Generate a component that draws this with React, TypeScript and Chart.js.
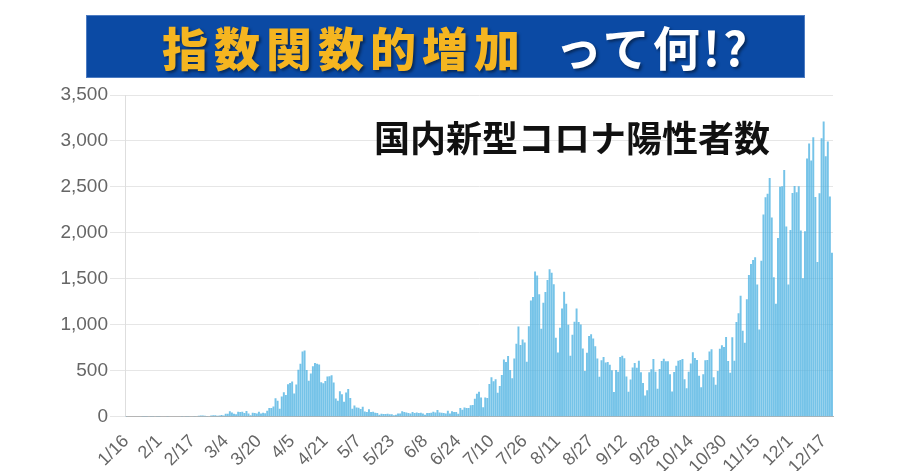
import React, { useEffect, useRef } from 'react';
import { Chart, registerables } from 'chart.js';

Chart.register(...registerables);

// Daily new positive cases in Japan, 2020 (from 1/16 to 12/21)
const jan = [1, 0, 0, 0, 0, 0, 0, 0, 1, 1, 1, 0, 3, 1, 4, 3];
const feb = [2, 0, 0, 0, 1, 0, 0, 0, 0, 0, 0, 1, 4, 1, 8, 5, 6, 7, 4, 10, 13, 12, 11, 8, 4, 14, 15, 15, 11];
const mar = [14, 18, 14, 33, 33, 59, 47, 33, 26, 54, 52, 55, 41, 62, 36, 15, 44, 39, 36, 53, 35, 43, 38, 65, 95, 96, 112, 200, 173, 87, 220];
const apr = [266, 235, 353, 367, 383, 252, 351, 511, 576, 708, 720, 507, 391, 470, 550, 585, 576, 568, 376, 364, 389, 437, 440, 451, 372, 199, 173, 278, 245, 162];
const may = [263, 302, 203, 87, 123, 100, 97, 84, 107, 57, 50, 81, 51, 55, 43, 41, 21, 31, 30, 30, 33, 26, 27, 17, 21, 34, 34, 59, 51, 46, 40];
const jun = [36, 51, 40, 46, 39, 43, 36, 20, 41, 40, 42, 55, 47, 72, 47, 44, 41, 34, 66, 36, 58, 50, 52, 33, 96, 76, 99, 94, 96, 125];
const jul = [126, 194, 250, 272, 210, 104, 209, 204, 355, 430, 385, 408, 261, 335, 455, 622, 595, 660, 509, 419, 632, 795, 981, 779, 840, 808, 597, 985, 1264, 1301, 1580];
const aug = [1536, 1331, 957, 1241, 1356, 1488, 1605, 1565, 1442, 859, 698, 967, 1177, 1360, 1230, 1000, 662, 891, 1034, 1176, 1030, 1003, 743, 496, 696, 878, 897, 850, 766, 633, 435];
const sep = [614, 649, 590, 596, 566, 505, 268, 509, 490, 650, 663, 636, 438, 272, 404, 536, 584, 532, 610, 483, 367, 230, 287, 483, 515, 628, 489, 304, 519, 605];
const oct = [630, 602, 604, 463, 274, 486, 555, 610, 617, 629, 408, 309, 490, 578, 700, 639, 617, 446, 320, 461, 615, 616, 709, 735, 430, 347, 497, 739, 778, 757, 867];
const nov = [606, 477, 865, 609, 1029, 1125, 1317, 936, 805, 1279, 1541, 1660, 1704, 1735, 1438, 949, 1697, 2201, 2388, 2425, 2596, 2168, 1518, 1228, 1945, 2501, 2508, 2684, 2068, 1437];
const dec = [2030, 2433, 2510, 2442, 2508, 2025, 1505, 2019, 2810, 2971, 2788, 3041, 2391, 1684, 2430, 3030, 3211, 2834, 2993, 2397, 1783];

const dailyCases = [...jan, ...feb, ...mar, ...apr, ...may, ...jun, ...jul, ...aug, ...sep, ...oct, ...nov, ...dec];

const tickLabels = ['1/16', '2/1', '2/17', '3/4', '3/20', '4/5', '4/21', '5/7', '5/23', '6/8', '6/24', '7/10', '7/26', '8/11', '8/27', '9/12', '9/28', '10/14', '10/30', '11/15', '12/1', '12/17'];

const yMax = 3500;
const yStep = 500;

const titleMain = '指数関数的増加';
const titleSub = 'って何!?';
const annotation = '国内新型コロナ陽性者数';

const categories = dailyCases.map((_, i) => {
  const d = new Date(2020, 0, 16 + i);
  return `${d.getMonth() + 1}/${d.getDate()}`;
});

export default function App() {
  const canvasRef = useRef<HTMLCanvasElement | null>(null);

  useEffect(() => {
    const canvas = canvasRef.current;
    if (!canvas) return;
    const chart = new Chart(canvas, {
      type: 'bar',
      data: {
        labels: categories,
        datasets: [
          {
            label: annotation,
            data: dailyCases,
            backgroundColor: 'rgba(78, 178, 226, 0.78)',
            borderWidth: 0,
            barPercentage: 1,
            categoryPercentage: 0.94,
          },
        ],
      },
      options: {
        animation: false,
        responsive: false,
        maintainAspectRatio: false,
        devicePixelRatio: 1,
        layout: { padding: { left: 0, right: 67, top: 95, bottom: 0 } },
        plugins: {
          legend: { display: false },
          title: { display: false },
          tooltip: { enabled: false },
        },
        scales: {
          x: {
            offset: true,
            grid: { display: false },
            border: { display: true, color: '#b5b5b5', width: 1 },
            ticks: {
              autoSkip: false,
              minRotation: 45,
              maxRotation: 45,
              padding: 6,
              color: '#666666',
              font: { family: 'Liberation Sans', size: 18 },
              callback: (_v: any, i: number) => (tickLabels.includes(categories[i]) ? categories[i] : ''),
            },
            afterFit: (scale: any) => {
              scale.height = 54.3;
            },
          },
          y: {
            min: 0,
            max: yMax,
            grid: { color: '#e6e6e6', tickLength: 15, lineWidth: 1 },
            border: { display: true, color: '#dedede', width: 1 },
            ticks: {
              stepSize: yStep,
              padding: 2,
              color: '#666666',
              font: { family: 'Liberation Sans', size: 19 },
              callback: (v: any) => Number(v).toLocaleString('en-US'),
            },
            afterFit: (scale: any) => {
              scale.width = 125;
            },
          },
        },
      },
    });
    return () => chart.destroy();
  }, []);

  return (
    <div style={{ position: 'absolute', left: 0, top: 0, width: 900, height: 471, background: '#ffffff', overflow: 'hidden' }}>
      <canvas ref={canvasRef} width={900} height={471} style={{ position: 'absolute', left: 0, top: 0, width: 900, height: 471 }} />
      <div
        style={{
          position: 'absolute',
          left: 86,
          top: 15,
          width: 719,
          height: 63,
          boxSizing: 'border-box',
          background: '#0b4aa4',
          border: '1px solid #4d7cc2',
        }}
      />
      <div
        style={{
          position: 'absolute',
          left: 162,
          top: 21,
          fontFamily: '"Noto Sans CJK JP", sans-serif',
          fontWeight: 900,
          fontSize: 46,
          lineHeight: '50px',
          letterSpacing: 6,
          color: '#f5b520',
          textShadow: '2px 2px 3px rgba(0,0,0,0.45)',
          whiteSpace: 'nowrap',
        }}
      >
        {titleMain}
      </div>
      <div
        style={{
          position: 'absolute',
          left: 555,
          top: 20,
          fontFamily: '"Noto Sans CJK JP", sans-serif',
          fontWeight: 700,
          fontSize: 47,
          lineHeight: '52px',
          letterSpacing: 3,
          color: '#ffffff',
          textShadow: '2px 2px 3px rgba(0,0,0,0.45)',
          whiteSpace: 'nowrap',
        }}
      >
        {titleSub}
      </div>
      <div
        style={{
          position: 'absolute',
          left: 374,
          top: 115,
          fontFamily: '"Noto Sans CJK JP", sans-serif',
          fontWeight: 700,
          fontSize: 36,
          lineHeight: '42px',
          color: '#111111',
          whiteSpace: 'nowrap',
        }}
      >
        {annotation}
      </div>
    </div>
  );
}
